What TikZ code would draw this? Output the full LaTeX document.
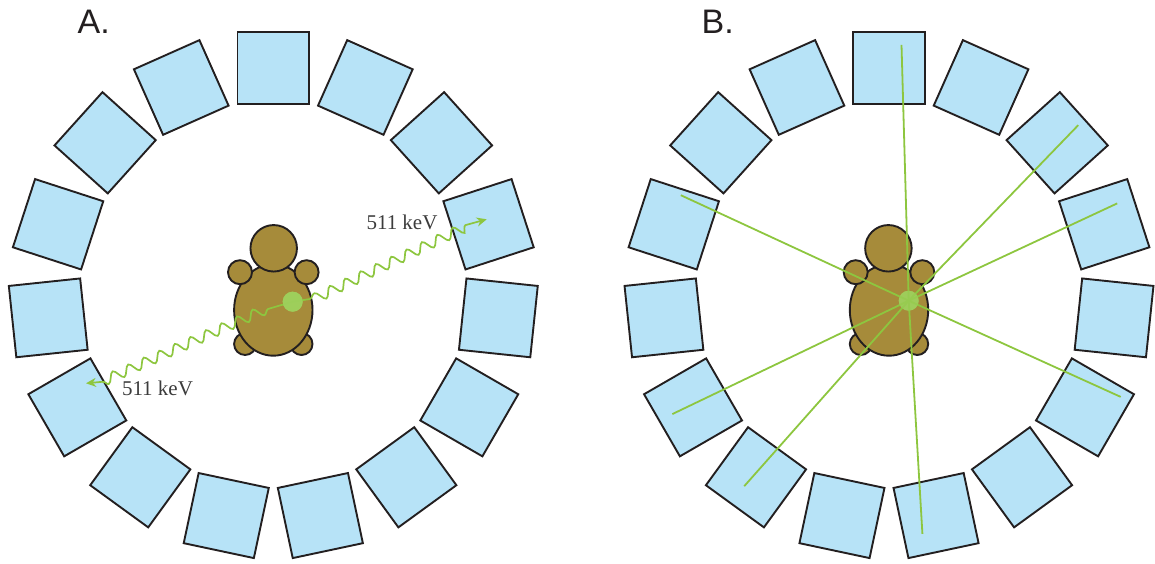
\documentclass[tikz,border=0pt]{standalone}
\usepackage{fontspec}
\setmainfont{Liberation Serif}
\newfontfamily\panelfont{Liberation Sans}
\usetikzlibrary{shapes.geometric,decorations.pathmorphing,arrows.meta}

\definecolor{crystal}{HTML}{B7E3F7}
\definecolor{shell}{HTML}{A68B3A}
\definecolor{gammagreen}{HTML}{8DC63F}
\definecolor{outline}{HTML}{231F20}
\definecolor{labelgray}{HTML}{3C3C3C}

\begin{document}
\begin{tikzpicture}[x=1pt, y=1pt,
        detector/.style={rectangle, draw=outline, fill=crystal, line width=1.9pt, minimum size=71.7pt, inner sep=0pt},
        turtle/.style={draw=outline, fill=shell, line width=1.9pt, inner sep=0pt},
        source/.style={circle, fill=gammagreen!85!white, opacity=0.9, minimum size=20pt, inner sep=0pt},
        photon/.style={gammagreen, line width=1.7pt, decorate,
            decoration={snake, amplitude=5pt, segment length=17pt, post length=15pt},
            -{Stealth[length=10pt, width=9pt]}},
        lor/.style={gammagreen, line width=1.8pt},
        energy/.style={font=\fontsize{21}{25}\selectfont, text=labelgray, inner sep=0pt},
        panel/.style={font=\panelfont\fontsize{34}{40}\selectfont, text=outline, inner sep=0pt},
        ]
            \useasboundingbox (0,0) rectangle (1155,563);

            % panel A: one annihilation, two photons
            \begin{scope}[shift={(273.3,268.8)}]
            \node[detector, rotate=0]   at (90:226.3)  (a0)  {};
            \node[detector, rotate=24]  at (114:226.3) (a1)  {};
            \node[detector, rotate=48]  at (138:226.3) (a2)  {};
            \node[detector, rotate=72]  at (162:226.3) (a3)  {};
            \node[detector, rotate=96]  at (186:226.3) (a4)  {};
            \node[detector, rotate=120] at (210:226.3) (a5)  {};
            \node[detector, rotate=144] at (234:226.3) (a6)  {};
            \node[detector, rotate=168] at (258:226.3) (a7)  {};
            \node[detector, rotate=192] at (282:226.3) (a8)  {};
            \node[detector, rotate=216] at (306:226.3) (a9)  {};
            \node[detector, rotate=240] at (330:226.3) (a10) {};
            \node[detector, rotate=264] at (354:226.3) (a11) {};
            \node[detector, rotate=288] at (18:226.3)  (a12) {};
            \node[detector, rotate=312] at (42:226.3)  (a13) {};
            \node[detector, rotate=336] at (66:226.3)  (a14) {};

            % turtle
            \node[turtle, circle, minimum size=22pt] at (-28.2,-49.8) (legA3) {};
            \node[turtle, circle, minimum size=22pt] at (28.2,-49.8)  (legA4) {};
            \node[turtle, ellipse, minimum width=78.4pt, minimum height=91.4pt] at (0,-15.8) (bodyA) {};
            \node[turtle, circle, minimum size=24pt] at (-33.3,22) (legA1) {};
            \node[turtle, circle, minimum size=24pt] at (33.3,22)  (legA2) {};
            \node[turtle, circle, minimum size=46.5pt] at (0.4,45.9) (headA) {};

            \node[source] at (19.4,-7.5) (srcA) {};

            \coordinate (kA1) at (36.7,-4.8);
            \coordinate (kA2) at (198.7,72.2);
            \coordinate (tipA) at (213.4,74.9);
            \coordinate (kA3) at (-5.3,-14.8);
            \coordinate (kA4) at (-170,-87.5);
            \coordinate (tipA2) at (-187.3,-89.1);

            \draw[photon, decoration={pre length=17.5pt}] (srcA.center) -- (kA1) -- (kA2) -- (tipA);
            \draw[photon, decoration={pre length=25.7pt}] (srcA.center) -- (kA3) -- (kA4) -- (tipA2);
            \node[source] at (19.4,-7.5) (glowA) {};

            \node[energy, anchor=base] at (128.7,64.9)   (eA1) {511 keV};
            \node[energy, anchor=base] at (-115.8,-100.8) (eA2) {511 keV};
            \end{scope}

            % panel B: lines of response through the source
            \begin{scope}[shift={(889,268.8)}]
            \node[detector, rotate=0]   at (90:226.3)  (b0)  {};
            \node[detector, rotate=24]  at (114:226.3) (b1)  {};
            \node[detector, rotate=48]  at (138:226.3) (b2)  {};
            \node[detector, rotate=72]  at (162:226.3) (b3)  {};
            \node[detector, rotate=96]  at (186:226.3) (b4)  {};
            \node[detector, rotate=120] at (210:226.3) (b5)  {};
            \node[detector, rotate=144] at (234:226.3) (b6)  {};
            \node[detector, rotate=168] at (258:226.3) (b7)  {};
            \node[detector, rotate=192] at (282:226.3) (b8)  {};
            \node[detector, rotate=216] at (306:226.3) (b9)  {};
            \node[detector, rotate=240] at (330:226.3) (b10) {};
            \node[detector, rotate=264] at (354:226.3) (b11) {};
            \node[detector, rotate=288] at (18:226.3)  (b12) {};
            \node[detector, rotate=312] at (42:226.3)  (b13) {};
            \node[detector, rotate=336] at (66:226.3)  (b14) {};

            % turtle
            \node[turtle, circle, minimum size=22pt] at (-28.2,-49.8) (legB3) {};
            \node[turtle, circle, minimum size=22pt] at (28.2,-49.8)  (legB4) {};
            \node[turtle, ellipse, minimum width=78.4pt, minimum height=91.4pt] at (0,-15.8) (bodyB) {};
            \node[turtle, circle, minimum size=24pt] at (-33.3,22) (legB1) {};
            \node[turtle, circle, minimum size=24pt] at (33.3,22)  (legB2) {};
            \node[turtle, circle, minimum size=46.5pt] at (-0.6,45.9) (headB) {};

            \node[source] at (19.7,-6.5) (srcB) {};

            \coordinate (hitB1) at (12.5,249.4);
            \coordinate (hitB2) at (189.2,169);
            \coordinate (hitB3) at (228.2,90.8);
            \coordinate (hitB4) at (231.7,-102.7);
            \coordinate (hitB5) at (33.4,-239.6);
            \coordinate (hitB6) at (-144.8,-192);
            \coordinate (hitB7) at (-216.7,-119.9);
            \coordinate (hitB8) at (-208.2,99);

            \draw[lor] (srcB.center) -- (hitB1);
            \draw[lor] (srcB.center) -- (hitB2);
            \draw[lor] (srcB.center) -- (hitB3);
            \draw[lor] (srcB.center) -- (hitB4);
            \draw[lor] (srcB.center) -- (hitB5);
            \draw[lor] (srcB.center) -- (hitB6);
            \draw[lor] (srcB.center) -- (hitB7);
            \draw[lor] (srcB.center) -- (hitB8);
            \node[source, opacity=0.6] at (19.7,-6.5) (glowB) {};
            \end{scope}

            \node[panel, anchor=base west] at (77.5,529.7) (labA) {A.};
            \node[panel, anchor=base west] at (701.5,529.7) (labB) {B.};

\end{tikzpicture}
\end{document}
